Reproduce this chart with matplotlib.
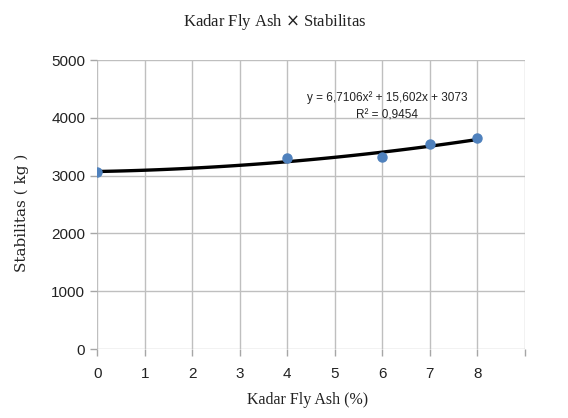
import matplotlib.pyplot as plt
import numpy as np

# data
kadar = [0, 4, 6, 7, 8]
stabilitas = [3070, 3310, 3320, 3555, 3655]
coef = [6.7106, 15.602, 3073]   # y = a x^2 + b x + c (Excel trendline)
x_ticks = [0, 1, 2, 3, 4, 5, 6, 7, 8]
y_ticks = [0, 1000, 2000, 3000, 4000, 5000]

sans = ['Liberation Sans', 'DejaVu Sans']
serif = ['Liberation Serif', 'DejaVu Serif']

fig = plt.figure(figsize=(5.68, 4.18), dpi=100)
ax = fig.add_axes([0.171, 0.165, 0.753, 0.691])

ax.set_xlim(0, 9)
ax.set_ylim(0, 5000)
ax.set_xticks(x_ticks + [9])
ax.set_xticklabels([str(t) for t in x_ticks] + [''])
ax.set_yticks(y_ticks)
ax.grid(True, color='#BFBFBF', linewidth=1)
ax.set_axisbelow(True)
for s in ax.spines.values():
    s.set_visible(False)
ax.tick_params(axis='both', color='#A6A6A6', length=5, width=1, labelsize=11, labelcolor='#222222')
ax.tick_params(axis='x', pad=8)
for lab in ax.get_xticklabels() + ax.get_yticklabels():
    lab.set_family(sans)

# trendline
xs = np.linspace(0, 8, 100)
ax.plot(xs, np.polyval(coef, xs), color='black', linewidth=2.4, zorder=3)

ax.plot(kadar, stabilitas, 'o', color='#4F81BD', markersize=6.5, zorder=4)

ax.text(6.11, 4360, 'y = 6,7106x² + 15,602x + 3073', ha='center', va='center',
        fontsize=8.5, family=sans, color='#222222')
ax.text(6.11, 4050, 'R² = 0,9454', ha='center', va='center',
        fontsize=8.5, family=sans, color='#222222')

fig.text(0.484, 0.947, 'Kadar Fly Ash $\\times$ Stabilitas', ha='center', va='center',
         fontsize=12, family=serif, color='#222222')
fig.text(0.542, 0.043, 'Kadar Fly Ash (%)', ha='center', va='center',
         fontsize=11.5, family=serif, color='#222222')
fig.text(0.039, 0.49, 'Stabilitas ( kg )', ha='center', va='center', rotation=90,
         fontsize=11, family=['DejaVu Serif'], color='#222222')

fig.savefig('out.png', dpi=100)
